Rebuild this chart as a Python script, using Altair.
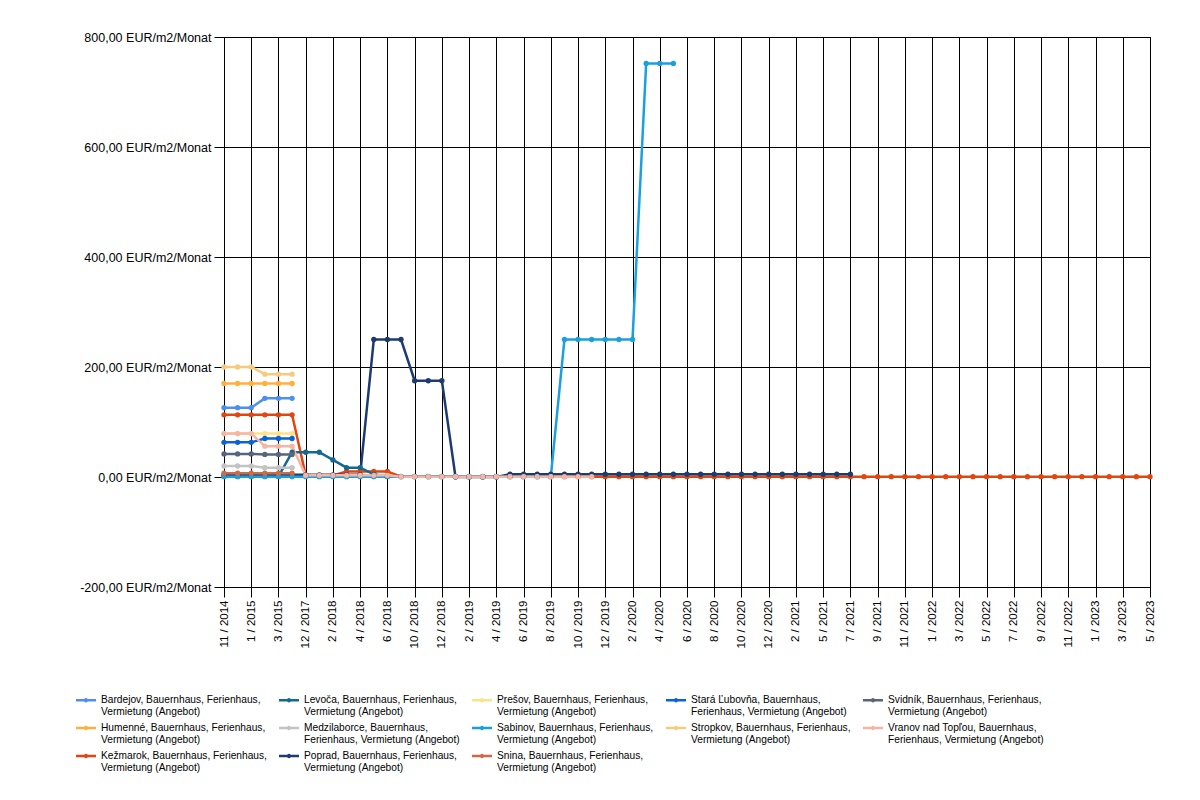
import altair as alt
import pandas as pd

categories = [
    "11 / 2014", "12 / 2014", "1 / 2015", "2 / 2015", "3 / 2015", "4 / 2015",
    "12 / 2017", "1 / 2018", "2 / 2018", "3 / 2018", "4 / 2018", "5 / 2018",
    "6 / 2018", "8 / 2018", "10 / 2018", "11 / 2018", "12 / 2018",
    "1 / 2019", "2 / 2019", "3 / 2019", "4 / 2019", "5 / 2019", "6 / 2019",
    "7 / 2019", "8 / 2019", "9 / 2019", "10 / 2019", "11 / 2019", "12 / 2019",
    "1 / 2020", "2 / 2020", "3 / 2020", "4 / 2020", "5 / 2020", "6 / 2020",
    "7 / 2020", "8 / 2020", "9 / 2020", "10 / 2020", "11 / 2020", "12 / 2020",
    "1 / 2021", "2 / 2021", "4 / 2021", "5 / 2021", "6 / 2021", "7 / 2021",
    "8 / 2021", "9 / 2021", "10 / 2021", "11 / 2021", "12 / 2021",
    "1 / 2022", "2 / 2022", "3 / 2022", "4 / 2022", "5 / 2022", "6 / 2022",
    "7 / 2022", "8 / 2022", "9 / 2022", "10 / 2022", "11 / 2022", "12 / 2022",
    "1 / 2023", "2 / 2023", "3 / 2023", "4 / 2023", "5 / 2023",
]
tick_labels = categories[::2]
y_ticks = [-200, 0, 200, 400, 600, 800]

S = ", Bauernhaus, Ferienhaus, Vermietung (Angebot)"
names = {
    "Bardejov": "Bardejov" + S,
    "Humenne": "Humenné" + S,
    "Kezmarok": "Kežmarok" + S,
    "Levoca": "Levoča" + S,
    "Medzilaborce": "Medzilaborce" + S,
    "Poprad": "Poprad" + S,
    "Presov": "Prešov" + S,
    "Sabinov": "Sabinov" + S,
    "Snina": "Snina" + S,
    "StaraLubovna": "Stará Ľubovňa" + S,
    "Stropkov": "Stropkov" + S,
    "Svidnik": "Svidník" + S,
    "Vranov": "Vranov nad Topľou" + S,
}

# (start index, values)
bardejov = (0, [126, 126, 126, 143, 143, 143])
humenne = (0, [170, 170, 170, 170, 170, 170])
kezmarok = (0, [113, 113, 113, 113, 113, 113, 3, 3, 3, 10, 10, 10, 10, 0.5,
                0.5, 0.5, 0.5, 0.5, 0.5, 0.5, 0.5, 0.5, 0.5, 0.5, 0.5, 0.5,
                0.5, 0.5, 0.5, 0.5, 0.5, 0.5, 0.5, 0.5, 0.5, 0.5, 0.5, 0.5,
                0.5, 0.5, 0.5, 0.5, 0.5, 0.5, 0.5, 0.5, 0.5, 0.5, 0.5, 0.5,
                0.5, 0.5, 0.5, 0.5, 0.5, 0.5, 0.5, 0.5, 0.5, 0.5, 0.5, 0.5,
                0.5, 0.5, 0.5, 0.5, 0.5, 0.5, 0.5])
levoca = (0, [1, 1, 1, 1, 1, 45, 45, 45, 31, 17, 17, 5, 1, 1, 1, 1, 1, 1,
              1, 1, 1, 1, 1, 1, 1])
medzilaborce = (0, [20, 20, 20, 17, 17, 17])
poprad = (0, [4, 4, 4, 4, 4, 4, 4, 4, 4, 4, 4, 250, 250, 250, 175, 175, 175,
              0, 0, 0, 0, 5, 5, 5, 5, 5, 5, 5, 5, 5, 5, 5, 5, 5, 5, 5, 5, 5,
              5, 5, 5, 5, 5, 5, 5, 5, 5])
presov = (0, [79, 79, 79, 79, 79, 79])
sabinov = (0, [0.5, 0.5, 0.5, 0.5, 0.5, 0.5, 0.5, 0.5, 0.5, 0.5, 0.5, 0.5,
               0.5, 0.5, 0.5, 0.5, 0.5, 0.5, 0.5, 0.5, 0.5, 0.5, 0.5, 0.5,
               0.5, 250, 250, 250, 250, 250, 250, 752, 752, 752])
snina = (0, [7, 7, 7, 7, 7, 7])
stara_lubovna = (0, [63, 63, 63, 70, 70, 70])
stropkov = (0, [200, 200, 200, 187, 187, 187])
svidnik = (0, [42, 42, 42, 41, 41, 41])
vranov = (0, [79, 79, 79, 56, 56, 56, 3, 3, 3, 3, 3, 3, 3, 0.5, 0.5, 0.5,
              0.5, 0.5, 0.5, 0.5, 0.5, 0.5, 0.5, 0.5, 0.5, 0.5, 0.5, 0.5])

series = [
    ("Bardejov", bardejov, "#4a90f0"),
    ("Humenne", humenne, "#ffb03c"),
    ("Kezmarok", kezmarok, "#e2450f"),
    ("Levoca", levoca, "#13698f"),
    ("Medzilaborce", medzilaborce, "#c3c3c3"),
    ("Poprad", poprad, "#1d3b6f"),
    ("Presov", presov, "#ffe187"),
    ("Sabinov", sabinov, "#1aa0e0"),
    ("Snina", snina, "#cf6a48"),
    ("StaraLubovna", stara_lubovna, "#0a62d8"),
    ("Stropkov", stropkov, "#f5cc7e"),
    ("Svidnik", svidnik, "#56647f"),
    ("Vranov", vranov, "#f5b5a5"),
]

rows = []
for order, (key, (start, vals), _c) in enumerate(series):
    for k, v in enumerate(vals):
        i = start + k
        rows.append({"cat": categories[i], "idx": i, "series": names[key],
                     "value": v, "sorder": order})
df = pd.DataFrame(rows)

# legend is filled row-major; reorder so that columns read like the original
legend_order = ["Bardejov", "Levoca", "Presov", "StaraLubovna", "Svidnik",
                "Humenne", "Medzilaborce", "Sabinov", "Stropkov", "Vranov",
                "Kezmarok", "Poprad", "Snina"]
color_of = {k: c for k, _s, c in series}
domain = [names[k] for k in legend_order]
rng = [color_of[k] for k in legend_order]

FONT = "Liberation Sans"

x = alt.X("cat:O", sort=categories,
          scale=alt.Scale(type="point", padding=0),
          axis=alt.Axis(values=tick_labels, title=None, labelAngle=270,
                        tickSize=10, labelPadding=3, labelFontSize=11.5,
                        grid=True))
y = alt.Y("value:Q",
          scale=alt.Scale(domain=[-200, 800], nice=False, zero=False),
          axis=alt.Axis(values=y_ticks, title=None, tickSize=10,
                        labelPadding=3, labelFontSize=12.5,
                        labelExpr="replace(replace(format(datum.value, '.2f'), '.', ','), '\u2212', '-') + ' EUR/m2/Monat'"))

label_expr = (
    "length(split(datum.label, ',')[0]) > 10 ? "
    "[slice(datum.label, 0, indexof(datum.label, 'Bauernhaus,') + 11), "
    "slice(datum.label, indexof(datum.label, 'Bauernhaus,') + 12)] : "
    "[slice(datum.label, 0, indexof(datum.label, 'Ferienhaus,') + 11), "
    "slice(datum.label, indexof(datum.label, 'Ferienhaus,') + 12)]"
)

sym_path = ("M-1,-0.13L1,-0.13L1,0.13L-1,0.13Z "
            "M-0.22,0A0.22,0.22 0 1,1 0.22,0A0.22,0.22 0 1,1 -0.22,0Z")

legend = alt.Legend(
    orient="none", legendX=-148, legendY=653, direction="horizontal",
    columns=5, title=None, padding=0,
    symbolType=sym_path, symbolSize=400,
    symbolStrokeWidth=0, symbolOpacity=1,
    labelFont=FONT, labelFontSize=10.2, labelOffset=5,
    labelLimit=400, rowPadding=0, columnPadding=12,
    labelColor="black", labelExpr=label_expr)

color = alt.Color("series:N", scale=alt.Scale(domain=domain, range=rng),
                  legend=legend)

lines = alt.Chart(df).mark_line(strokeWidth=2.5).encode(
    x=x, y=y, color=color, order=alt.Order("idx:Q"),
)

points = alt.Chart(df).mark_point(filled=True, size=28, opacity=1).encode(
    x=x, y=y, color=color,
)

chart = alt.layer(lines, points).properties(
    width=926, height=550,
    autosize=alt.AutoSizeParams(type="none"),
    padding={"left": 216, "top": 29, "right": 42, "bottom": 205},
    background="white",
).configure_axis(
    domainColor="black", gridColor="black", gridWidth=1, tickColor="black",
    labelColor="black", labelFont=FONT, gridOpacity=1,
).configure_view(stroke="black", strokeWidth=1)

chart.save("out.html", embed_options={"renderer": "svg", "actions": False})
